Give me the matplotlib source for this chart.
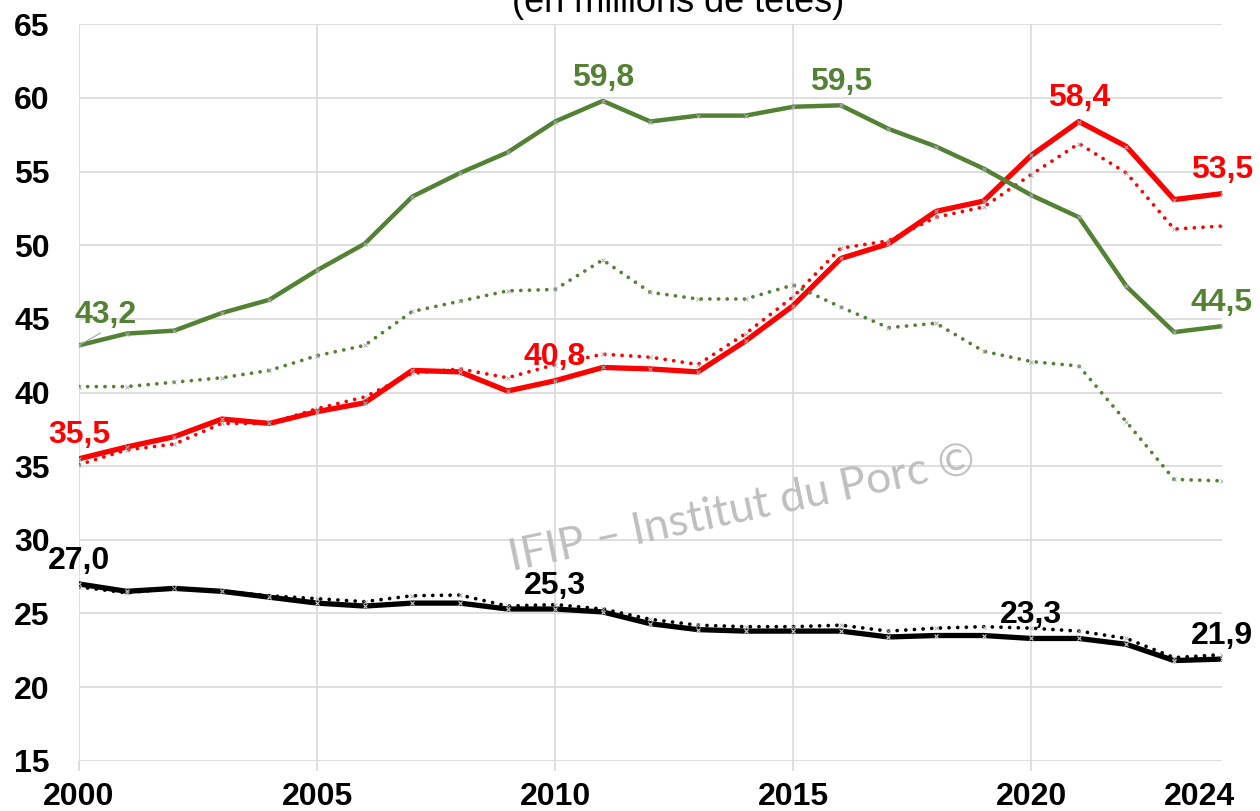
import numpy as np
import matplotlib
matplotlib.use("Agg")
import matplotlib.pyplot as plt
from matplotlib.transforms import ScaledTranslation

# --- données (millions de têtes)
annees = np.arange(2000, 2025)

vert_plein = [43.2, 44.0, 44.2, 45.4, 46.3, 48.3, 50.1, 53.3, 54.9, 56.3,
              58.4, 59.8, 58.4, 58.8, 58.8, 59.4, 59.5, 57.9, 56.7, 55.2,
              53.4, 51.9, 47.2, 44.1, 44.5]
vert_pointille = [40.4, 40.4, 40.7, 41.0, 41.5, 42.5, 43.2, 45.5, 46.2, 46.9,
                  47.0, 49.0, 46.8, 46.35, 46.35, 47.3, 45.8, 44.4, 44.7, 42.8,
                  42.1, 41.8, 38.0, 34.1, 34.0]
rouge_plein = [35.5, 36.3, 37.0, 38.2, 37.9, 38.7, 39.3, 41.5, 41.4, 40.1,
               40.8, 41.7, 41.6, 41.4, 43.5, 45.9, 49.1, 50.1, 52.3, 53.0,
               56.1, 58.4, 56.7, 53.1, 53.5]
rouge_pointille = [35.1, 36.1, 36.5, 37.9, 37.9, 38.9, 39.7, 41.3, 41.6, 41.0,
                   41.9, 42.6, 42.4, 41.9, 44.0, 46.5, 49.8, 50.3, 51.9, 52.6,
                   54.8, 56.9, 54.9, 51.1, 51.3]
noir_plein = [27.0, 26.5, 26.7, 26.5, 26.1, 25.7, 25.5, 25.7, 25.7, 25.3,
              25.3, 25.1, 24.3, 23.9, 23.8, 23.8, 23.8, 23.4, 23.5, 23.5,
              23.3, 23.3, 22.9, 21.8, 21.9]
noir_pointille = [26.8, 26.4, 26.7, 26.5, 26.2, 26.0, 25.8, 26.2, 26.25, 25.5,
                  25.6, 25.3, 24.6, 24.2, 24.1, 24.1, 24.2, 23.8, 24.0, 24.1,
                  24.0, 23.8, 23.3, 22.0, 22.2]

# années étiquetées pour chaque courbe pleine
etiq_vert = [2011, 2016, 2024]
etiq_rouge = [2000, 2010, 2021, 2024]
etiq_noir = [2000, 2010, 2020, 2024]

VERT = "#548235"
ROUGE = "#ff0000"
NOIR = "#000000"
GRIS = "#a6a6a6"

plt.rcParams["font.family"] = ["Liberation Sans", "DejaVu Sans"]

fig = plt.figure(figsize=(12.6, 8.11), dpi=100)
ax = fig.add_axes([79 / 1260, 1 - 760.7 / 811, (1221.7 - 79) / 1260, (760.7 - 24.3) / 811])

pointille = (0, (0.01, 2.3))

ax.plot(annees, rouge_plein, color=ROUGE, lw=3.8, marker="x", ms=3, mec=GRIS, mew=0.8, zorder=3)
ax.plot(annees, rouge_pointille, color=ROUGE, lw=2.7, ls=pointille, dash_capstyle="round",
        marker="x", ms=3, mec=GRIS, mew=0.6, zorder=3)
ax.plot(annees, vert_plein, color=VERT, lw=3.2, marker="x", ms=3, mec=GRIS, mew=0.8, zorder=4)
ax.plot(annees, vert_pointille, color=VERT, lw=2.7, ls=pointille, dash_capstyle="round",
        marker="x", ms=3, mec=GRIS, mew=0.6, zorder=4)
ax.plot(annees, noir_plein, color=NOIR, lw=3.8, marker="x", ms=3, mec="#d0d0d0", mew=0.8, zorder=5)
ax.plot(annees, noir_pointille, color=NOIR, lw=2.7, ls=pointille, dash_capstyle="round",
        marker="x", ms=3, mec=GRIS, mew=0.6, zorder=5)

ax.set_xlim(2000, 2024)
ax.set_ylim(15, 65)
ax.set_yticks(np.arange(15, 66, 5))
ax.set_xticks([2000, 2005, 2010, 2015, 2020, 2024])

ax.grid(True, color="#d9d9d9", lw=1.2)
ax.set_axisbelow(True)
for s in ax.spines.values():
    s.set_visible(False)

ax.tick_params(axis="y", length=0, pad=21, labelsize=23)
ax.tick_params(axis="x", length=7, width=1.2, color="#d9d9d9", pad=8, labelsize=23)
for lab in ax.get_xticklabels() + ax.get_yticklabels():
    lab.set_fontweight("bold")

# pas de quadrillage ni de graduation à 2024, étiquette décalée
dernier = ax.xaxis.get_major_ticks()[-1]
dernier.gridline.set_visible(False)
dernier.tick1line.set_visible(False)
dernier.label1.set_transform(dernier.label1.get_transform()
                             + ScaledTranslation(-0.22, 0, fig.dpi_scale_trans))

# étiquettes de valeurs
def etiqueter(serie, liste, couleur):
    for a in liste:
        v = serie[a - 2000]
        ax.annotate(f"{v:.1f}".replace(".", ","), xy=(a, v), xytext=(0, 11),
                    textcoords="offset points", ha="center", va="baseline",
                    fontsize=23, weight="bold", color=couleur, zorder=6)

etiqueter(vert_plein, etiq_vert, VERT)
etiqueter(rouge_plein, etiq_rouge, ROUGE)
etiqueter(noir_plein, etiq_noir, NOIR)

ax.annotate(f"{vert_plein[0]:.1f}".replace(".", ","), xy=(2000, vert_plein[0]),
            xytext=(19, 16), textcoords="offset points", ha="center", va="baseline",
            fontsize=23, weight="bold", color=VERT, zorder=6,
            arrowprops=dict(arrowstyle="-", color="#a6a6a6", lw=0.8,
                            shrinkA=0, shrinkB=0, relpos=(0.5, 0)))

# titre (coupé en haut, comme sur l'original)
fig.text(678 / 1260, 1 - 11.7 / 811, "(en millions de têtes)", ha="center",
         va="baseline", fontsize=26)

# filigrane
ax.text(2013.93, 32.1, "IFIP – Institut du Porc ©", rotation=12, rotation_mode="anchor",
        ha="center", va="center", fontsize=32, color="#bfbfbf",
        family=["Lato", "DejaVu Sans"], zorder=2)

fig.savefig("out.png", dpi=100)
